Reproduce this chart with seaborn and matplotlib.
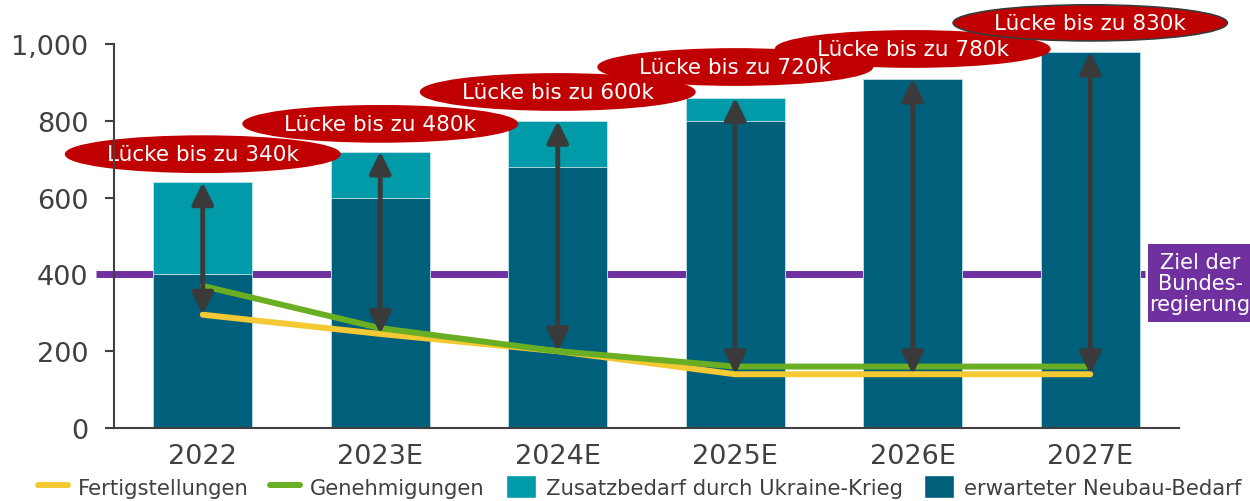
import numpy as np
import matplotlib
matplotlib.use('Agg')
import matplotlib.pyplot as plt
from matplotlib.patches import Ellipse, Patch, Rectangle
from matplotlib.lines import Line2D
import seaborn as sns

# data (in thousand dwellings)
years = ['2022', '2023E', '2024E', '2025E', '2026E', '2027E']
base_need = [400, 600, 680, 800, 910, 980]        # erwarteter Neubau-Bedarf
extra_need = [240, 120, 120, 60, 0, 0]            # Zusatzbedarf durch Ukraine-Krieg
completions = [295, 245, 200, 140, 140, 140]      # Fertigstellungen
permits = [370, 260, 200, 160, 160, 160]          # Genehmigungen
gap_labels = ['Lücke bis zu 340k', 'Lücke bis zu 480k', 'Lücke bis zu 600k',
              'Lücke bis zu 720k', 'Lücke bis zu 780k', 'Lücke bis zu 830k']
bubble_y = [713, 792, 875, 940, 987, 1055]
target = 400

dark = '#005f7a'
light = '#009aa8'
purple = '#7030a0'
green = '#6aaf23'
yellow = '#f5c934'
red = '#c00000'
grey = '#3a3a3a'
txt = '#404040'

sns.set_style('white')
plt.rcParams['font.family'] = ['DejaVu Sans']

fig = plt.figure(figsize=(12.5, 5.02), dpi=100)
ax = fig.add_axes([0.0912, 0.1454, 0.852, 0.765])

totals = [b + e for b, e in zip(base_need, extra_need)]

# target line behind the bars
ax.plot([-0.6, 5.31], [target, target], color=purple, lw=5, zorder=1,
        solid_capstyle='butt', clip_on=False)

sns.barplot(x=years, y=totals, color=light, saturation=1, width=0.56,
            edgecolor='#c5e3ea', linewidth=0.6, ax=ax, zorder=2)
sns.barplot(x=years, y=base_need, color=dark, saturation=1, width=0.56,
            edgecolor='#c5e3ea', linewidth=0.6, ax=ax, zorder=3)

sns.lineplot(x=years, y=completions, color=yellow, lw=4.3, sort=False,
             ax=ax, zorder=4, solid_capstyle='round')
sns.lineplot(x=years, y=permits, color=green, lw=4.3, sort=False,
             ax=ax, zorder=5, solid_capstyle='round')

# double arrows from completions up to total need
for i, (lo, hi) in enumerate(zip(completions, totals)):
    ax.annotate('', xy=(i, hi), xytext=(i, lo),
                arrowprops=dict(arrowstyle='<|-|>,head_length=0.65,head_width=0.32',
                                mutation_scale=20, color=grey, lw=3.5,
                                shrinkA=0, shrinkB=0), zorder=6)

# gap bubbles
for i, (lab, yb) in enumerate(zip(gap_labels, bubble_y)):
    edge = grey if i == len(gap_labels) - 1 else red
    el = Ellipse((i, yb), width=1.545, height=94, facecolor=red,
                 edgecolor=edge, lw=1.2, zorder=7, clip_on=False)
    ax.add_patch(el)
    ax.text(i, yb, lab, color='white', fontsize=15.5, ha='center',
            va='center', zorder=8, clip_on=False)

ax.set_xlim(-0.5, 5.5)
ax.set_ylim(0, 1000)
ax.set_yticks(range(0, 1001, 200))
ax.set_yticklabels([f'{v:,}' for v in range(0, 1001, 200)])
ax.tick_params(axis='y', left=True, length=6.5, width=1.5, color=txt,
               labelsize=19.5, labelcolor=txt, pad=12)
ax.tick_params(axis='x', bottom=False, labelsize=19.5, labelcolor=txt, pad=7)
for s in ['top', 'right']:
    ax.spines[s].set_visible(False)
for s in ['left', 'bottom']:
    ax.spines[s].set_color(txt)
    ax.spines[s].set_linewidth(1.5)
    ax.spines[s].set_zorder(9)
ax.set_xlabel('')
ax.set_ylabel('')

# target label box
fig.patches.append(Rectangle((1148 / 1250, 1 - 323 / 502), 102 / 1250, 78 / 502,
                             transform=fig.transFigure, facecolor=purple,
                             edgecolor='none'))
fig.text(1200 / 1250, 1 - 284 / 502, 'Ziel der\nBundes-\nregierung', color='white',
         fontsize=15, ha='center', va='center', linespacing=1.05)

handles = [Line2D([], [], color=yellow, lw=4.3),
           Line2D([], [], color=green, lw=4.3),
           Patch(facecolor=light),
           Patch(facecolor=dark)]
names = ['Fertigstellungen', 'Genehmigungen',
         'Zusatzbedarf durch Ukraine-Krieg', 'erwarteter Neubau-Bedarf']
leg = fig.legend(handles, names, loc='center', bbox_to_anchor=(0.512, 0.028),
                 ncol=4, frameon=False, fontsize=15.2, handlelength=1.4,
                 handleheight=1.3, columnspacing=1.0, handletextpad=0.5)
for t in leg.get_texts():
    t.set_color(txt)

fig.savefig('out.png', dpi=100)
